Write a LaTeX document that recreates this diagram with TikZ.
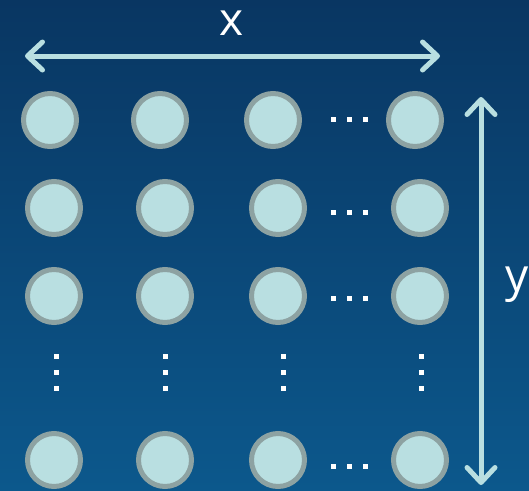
\documentclass[tikz,border=0pt]{standalone}
\usepackage{fontspec}
\setmainfont{Open Sans}
\usetikzlibrary{arrows.meta}
\definecolor{ballfill}{RGB}{185,223,225}
\definecolor{ballline}{RGB}{141,162,162}
\definecolor{axiscol}{RGB}{185,223,225}
\definecolor{bgtop}{RGB}{9,54,98}
\definecolor{bgbottom}{RGB}{12,88,140}
\tikzset{
  ball/.style={draw=ballline, fill=ballfill, circle, line width=5pt, inner sep=0pt, minimum size=53pt},
  axis/.style={draw=axiscol, line width=5pt, line cap=round},
  axislabel/.style={text=white, font=\fontsize{46}{46}\selectfont, anchor=base, inner sep=0pt},
  dot/.style={fill=white}
}
\begin{document}
\begin{tikzpicture}[x=1pt, y=-1pt, >={Straight Barb[length=15pt, width=28pt, line cap=round, line join=round]}]
\shade[top color=bgtop, bottom color=bgbottom] (0,0) rectangle (529,490);
\useasboundingbox (0,0) rectangle (529,490);

% grid of units
\foreach \c/\xx in {1/50,2/160,3/273,4/415}
  \node[ball] (r1c\c) at (\xx,120) {};
\foreach \r/\yy in {2/208,3/296,5/460}
  \foreach \c/\xx in {1/54,2/165,3/278,4/420}
    \node[ball] (r\r c\c) at (\xx,\yy) {};

% row dots
\foreach \yy in {119,212,298,466}
  \foreach \xx in {333,349,365}
    \fill[dot] (\xx-2.5,\yy-2.5) rectangle (\xx+2.5,\yy+2.5);
% column dots
\foreach \xx in {56,165,283,421}
  \foreach \yy in {356,372,388}
    \fill[dot] (\xx-2.5,\yy-2.5) rectangle (\xx+2.5,\yy+2.5);

% axes
\coordinate (xl) at (25,56);
\coordinate (xr) at (440,56);
\coordinate (yt) at (481,97);
\coordinate (yb) at (481,485);
\draw[axis, <->] (xl) -- (xr);
\draw[axis, <->] (yt) -- (yb);
\node[axislabel] (xlab) at (232,35) {x};
\node[axislabel] (ylab) at (517,291) {y};
\end{tikzpicture}
\end{document}
